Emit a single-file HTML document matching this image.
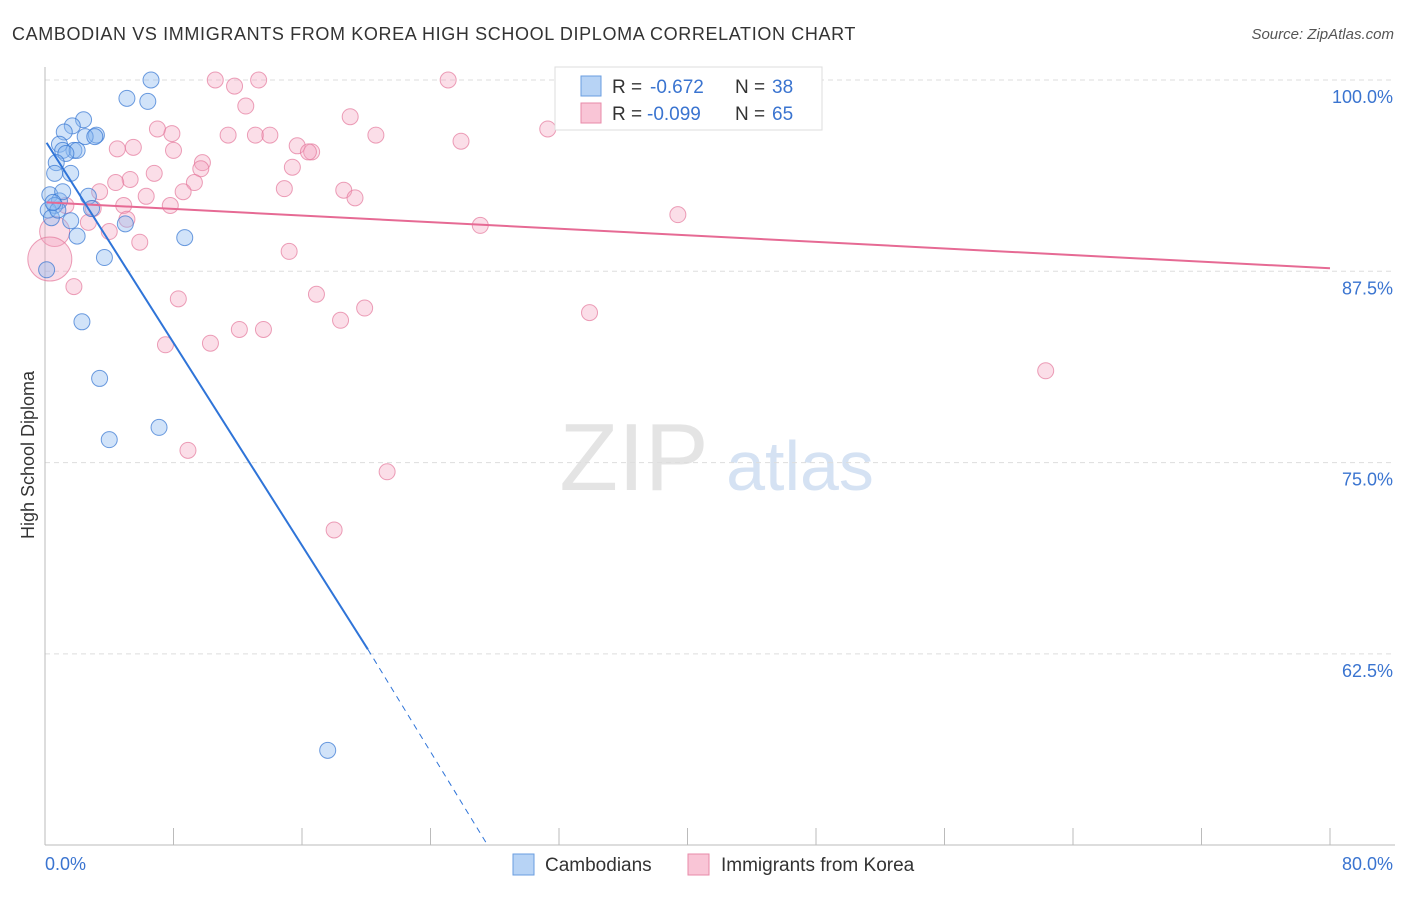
<!DOCTYPE html>
<html><head><meta charset="utf-8"><style>
body{margin:0;background:#fff;font-family:"Liberation Sans",sans-serif;}
svg text{font-family:"Liberation Sans",sans-serif;}
</style></head><body>
<svg id="chart" width="1406" height="892" xmlns="http://www.w3.org/2000/svg">
<text x="12" y="40" font-size="18" fill="#333" letter-spacing="0.6" textLength="844">CAMBODIAN VS IMMIGRANTS FROM KOREA HIGH SCHOOL DIPLOMA CORRELATION CHART</text>
<text x="1394" y="39" font-size="15" fill="#555" font-style="italic" text-anchor="end">Source: ZipAtlas.com</text>
<g>
<text x="634" y="490" font-size="96" fill="#e4e4e4" text-anchor="middle" font-family="Liberation Serif">ZIP</text>
<text x="800" y="490" font-size="70" fill="#d5e2f3" text-anchor="middle">atlas</text>
</g>
<g id="grid"></g>
<g id="axes"></g>
<g id="points"></g>
<g id="trends"></g>
<text x="34" y="455" font-size="18" fill="#333" text-anchor="middle" transform="rotate(-90 34 455)">High School Diploma</text>
<g>
<rect x="555" y="67" width="267" height="63" fill="#fff" stroke="#ddd"/>
<rect x="581" y="76" width="20" height="20" fill="#b7d3f5" stroke="#6a9ee0"/>
<rect x="581" y="103" width="20" height="20" fill="#f9c5d6" stroke="#e88aa8"/>
<text y="93" font-size="19" fill="#333"><tspan x="612">R =</tspan><tspan x="650" fill="#3a74d0">-0.672</tspan><tspan x="735">N =</tspan><tspan x="772" fill="#3a74d0">38</tspan></text>
<text y="120" font-size="19" fill="#333"><tspan x="612">R =</tspan><tspan x="647" fill="#3a74d0">-0.099</tspan><tspan x="735">N =</tspan><tspan x="772" fill="#3a74d0">65</tspan></text>
</g>
<g>
<rect x="513" y="854" width="21" height="21" fill="#b7d3f5" stroke="#6a9ee0"/>
<text x="545" y="871" font-size="19" fill="#333">Cambodians</text>
<rect x="688" y="854" width="21" height="21" fill="#f9c5d6" stroke="#e88aa8"/>
<text x="721" y="871" font-size="19" fill="#333">Immigrants from Korea</text>
</g>
</svg>
<script>
const yTicks=[100,87.5,75,62.5];
const xTickLabels=["0.0%","80.0%"];
const blueX=[6.6,5.1,6.4,2.4,1.7,1.2,3.2,2.5,0.9,1.8,1.1,2.0,1.3,0.7,1.6,0.6,0.3,2.7,0.9,0.6,0.2,0.4,1.6,2.9,5.0,2.0,8.7,3.7,0.1,2.3,3.4,7.1,4.0,17.6,1.1,0.8,3.1,0.5];
const blueY=[100,98.8,98.6,97.4,97.0,96.6,96.4,96.3,95.8,95.4,95.4,95.4,95.2,94.6,93.9,93.9,92.5,92.4,92.1,91.8,91.5,91.0,90.8,91.6,90.6,89.8,89.7,88.4,87.6,84.2,80.5,77.3,76.5,56.2,92.7,91.5,96.3,92.0];
const pinkX=[10.6,11.8,13.3,25.1,12.5,19.0,31.3,20.6,25.9,11.4,13.1,14.0,7.9,7.0,4.5,5.5,15.7,16.6,16.4,8.0,9.8,9.7,15.4,6.8,5.3,4.4,9.3,14.9,18.6,19.3,3.4,6.3,8.6,7.8,4.9,3.0,5.1,1.3,2.7,27.1,39.4,4.0,5.9,0.6,15.2,0.3,1.8,8.3,16.9,19.9,18.4,33.9,12.1,13.6,7.5,10.3,62.3,8.9,21.3,18.0,39.3];
const pinkY=[100,99.6,100,100,98.3,97.6,96.8,96.4,96.0,96.4,96.4,96.4,96.5,96.8,95.5,95.6,95.7,95.3,95.3,95.4,94.6,94.2,94.3,93.9,93.5,93.3,93.3,92.9,92.8,92.3,92.7,92.4,92.7,91.8,91.8,91.6,90.9,91.8,90.7,90.5,91.2,90.1,89.4,90.1,88.8,88.3,86.5,85.7,86.0,85.1,84.3,84.8,83.7,83.7,82.7,82.8,81.0,75.8,74.4,70.6,100];
const pinkR=[8,8,8,8,8,8,8,8,8,8,8,8,8,8,8,8,8,8,8,8,8,8,8,8,8,8,8,8,8,8,8,8,8,8,8,8,8,8,8,8,8,8,8,15,8,22,8,8,8,8,8,8,8,8,8,8,8,8,8,8,8];
const blueTrend=[[0.1,95.9],[20.1,62.8]];
const blueDash=[[20.1,62.8],[27.5,50.1]];
const pinkTrend=[[0.1,92.0],[80,87.7]];
const X0=45,X1=1330;
function sx(v){return X0+v/80*(X1-X0);}
function sy(v){return 80+(100-v)/12.5*191.3;}
const NS="http://www.w3.org/2000/svg";
function mk(tag,attrs,parent){const e=document.createElementNS(NS,tag);for(const k in attrs)e.setAttribute(k,attrs[k]);document.getElementById(parent).appendChild(e);return e;}
yTicks.forEach(t=>{
 const l=mk('line',{x1:X0,x2:1395,y1:sy(t),y2:sy(t),stroke:'#ddd','stroke-dasharray':'5,4'},'grid');
 
 
 const tx=mk('text',{x:1393,y:sy(t)+23,'font-size':18,fill:'#3a74d0','text-anchor':'end'},'axes');
 tx.textContent=t.toFixed(1)+'%';
 
 
});
const ax=mk('line',{x1:X0,x2:X0,y1:67,y2:845,stroke:'#bbb'},'axes');


const bx=mk('line',{x1:X0,x2:1395,y1:845,y2:845,stroke:'#bbb'},'axes');


for(let i=0;i<=10;i++){
 const t=mk('line',{x1:sx(i*8),x2:sx(i*8),y1:828,y2:845,stroke:'#bbb'},'axes');
 
 
}
[[0,'start',45],[80,'end',1393]].forEach((d,i)=>{
 const tx=mk('text',{x:d[2],y:870,'font-size':18,fill:'#3a74d0','text-anchor':d[1]},'axes');
 tx.textContent=xTickLabels[i];
 
 
});
pinkX.forEach((v,i)=>{
 const c=mk('circle',{cx:sx(v),cy:sy(pinkY[i]),r:pinkR[i],fill:'rgba(244,160,188,0.35)',stroke:'rgba(228,120,155,0.7)','stroke-width':1},'points');
 
 
});
blueX.forEach((v,i)=>{
 const c=mk('circle',{cx:sx(v),cy:sy(blueY[i]),r:8,fill:'rgba(140,185,240,0.4)',stroke:'rgba(50,115,210,0.7)','stroke-width':1},'points');
 
 
});
function ln(p,stroke,w,dash,name){
 const l=mk('line',{x1:sx(p[0][0]),y1:sy(p[0][1]),x2:sx(p[1][0]),y2:sy(p[1][1]),stroke:stroke,'stroke-width':w},'trends');
 if(dash)l.setAttribute('stroke-dasharray',dash);
 
 
}
ln(pinkTrend,'#e66a94',2,null,'korea-trend-line');
ln(blueTrend,'#2f74d8',2,null,'cambodian-trend-line');
ln(blueDash,'#2f74d8',1,'6,5','cambodian-trend-extension');
</script>
</body></html>
